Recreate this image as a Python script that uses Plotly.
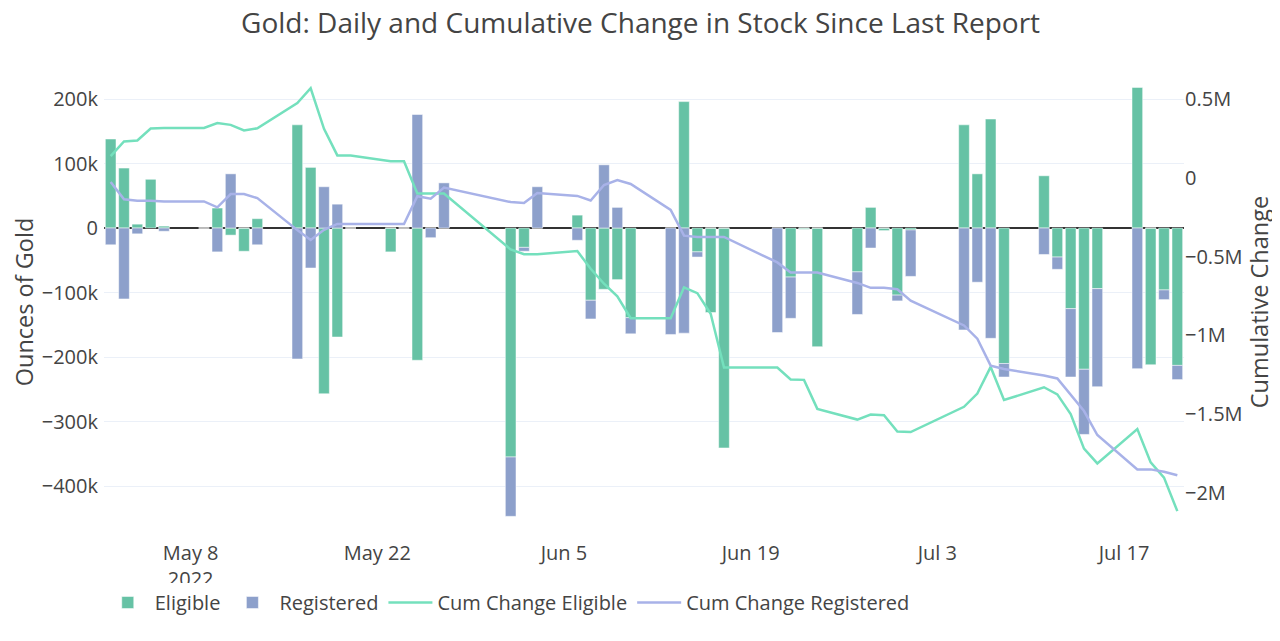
import plotly.graph_objects as go

dates = ['2022-05-02', '2022-05-03', '2022-05-04', '2022-05-05', '2022-05-06',
         '2022-05-09', '2022-05-10', '2022-05-11', '2022-05-12', '2022-05-13',
         '2022-05-16', '2022-05-17', '2022-05-18', '2022-05-19', '2022-05-20',
         '2022-05-23', '2022-05-24', '2022-05-25', '2022-05-26', '2022-05-27',
         '2022-06-01', '2022-06-02', '2022-06-03',
         '2022-06-06', '2022-06-07', '2022-06-08', '2022-06-09', '2022-06-10',
         '2022-06-13', '2022-06-14', '2022-06-15', '2022-06-16', '2022-06-17',
         '2022-06-21', '2022-06-22', '2022-06-23', '2022-06-24',
         '2022-06-27', '2022-06-28', '2022-06-29', '2022-06-30', '2022-07-01',
         '2022-07-05', '2022-07-06', '2022-07-07', '2022-07-08',
         '2022-07-11', '2022-07-12', '2022-07-13', '2022-07-14', '2022-07-15',
         '2022-07-18', '2022-07-19', '2022-07-20', '2022-07-21']

# daily change, ounces
eligible = [138000, 93000, 6000, 76000, 3000,
            0, 31000, -11000, -36000, 14500,
            160000, 94000, -257000, -169000, 0,
            -37000, 0, -205000, 0, 0,
            -355000, -30000, 0,
            20000, -112000, -95000, -80000, -139000,
            0, 196000, -37000, -131000, -341000,
            0, -76000, -2000, -184000,
            -68000, 32000, -4000, -104000, -3000,
            160000, 84000, 169000, -210000,
            81000, -45000, -125000, -219000, -94000,
            218000, -212000, -96000, -213000]

registered = [-26000, -110000, -9000, 0, -5000,
              0, -37000, 84000, 0, -26000,
              -203000, -62000, 64000, 37000, 0,
              0, 0, 176000, -15000, 70000,
              -92000, -6000, 64000,
              -19000, -29000, 98000, 32000, -25000,
              -165000, -163000, -8000, 0, 0,
              -162000, -64000, 0, 0,
              -66000, -31000, 0, -9000, -72000,
              -158000, -84000, -171000, -21000,
              -41000, -19000, -106000, -101000, -152000,
              -218000, 0, -15000, -22000]

# cumulative change, ounces
cum_eligible = [138000, 231000, 237000, 313000, 316000,
                316000, 347000, 336000, 300000, 314000,
                474000, 568000, 311000, 142000, 142000,
                105000, 105000, -100000, -100000, -100000,
                -455000, -485000, -485000,
                -465000, -577000, -672000, -752000, -891000,
                -891000, -695000, -732000, -863000, -1204000,
                -1204000, -1280000, -1282000, -1466000,
                -1534000, -1502000, -1506000, -1610000, -1613000,
                -1453000, -1369000, -1200000, -1410000,
                -1329000, -1374000, -1499000, -1718000, -1812000,
                -1594000, -1806000, -1902000, -2115000]

cum_registered = [-26000, -136000, -145000, -145000, -150000,
                  -150000, -187000, -103000, -103000, -129000,
                  -332000, -394000, -330000, -293000, -293000,
                  -293000, -293000, -117000, -132000, -62000,
                  -154000, -160000, -96000,
                  -115000, -144000, -46000, -14000, -39000,
                  -204000, -367000, -375000, -375000, -375000,
                  -537000, -601000, -601000, -601000,
                  -667000, -698000, -698000, -707000, -779000,
                  -937000, -1021000, -1192000, -1213000,
                  -1254000, -1273000, -1379000, -1480000, -1632000,
                  -1850000, -1850000, -1865000, -1887000]

FONT = "Open Sans, Verdana, Arial, sans-serif"

fig = go.Figure()
fig.add_trace(go.Bar(x=dates, y=eligible, name='Eligible', marker_color='#66c2a5'))
fig.add_trace(go.Bar(x=dates, y=registered, name='Registered', marker_color='#8da0cb'))
fig.add_trace(go.Scatter(x=dates, y=cum_eligible, name='Cum Change Eligible', yaxis='y2',
                         mode='lines', line=dict(color='#74e0bd', width=2.5)))
fig.add_trace(go.Scatter(x=dates, y=cum_registered, name='Cum Change Registered', yaxis='y2',
                         mode='lines', line=dict(color='#a8b2e8', width=2.5)))

fig.update_layout(
    template='plotly_white',
    width=1272, height=633,
    barmode='relative',
    font=dict(family=FONT, size=20, color='#444'),
    title=dict(text='Gold: Daily and Cumulative Change in Stock Since Last Report',
               x=0.4973, xanchor='center', y=0.976, yanchor='middle',
               font=dict(size=28, color='#444')),
    margin=dict(l=96, r=96, t=62, b=107),
    xaxis=dict(type='date', range=['2022-05-01 12:00', '2022-07-21 12:00'],
               tick0='2022-05-08', dtick=14 * 86400000, showgrid=False,
               tickfont=dict(size=20), ticklabelstandoff=5),
    yaxis=dict(title=dict(text='Ounces of Gold', font=dict(size=23.5), standoff=6),
               range=[-474400, 245000], dtick=100000,
               zeroline=True, zerolinecolor='#333', zerolinewidth=1.5,
               gridcolor='#EBF0F8', tickfont=dict(size=20), ticklabelstandoff=5),
    yaxis2=dict(title=dict(text='Cumulative Change', font=dict(size=23.5), standoff=6),
                overlaying='y', side='right',
                range=[-2260000, 684000], dtick=500000,
                showgrid=False, zeroline=False, tickfont=dict(size=20)),
    legend=dict(orientation='h', x=-0.003, xanchor='left', y=-0.1056, yanchor='top',
                font=dict(size=20), bgcolor='white', itemwidth=44),
    showlegend=True,
)

fig.write_html('out.html')
